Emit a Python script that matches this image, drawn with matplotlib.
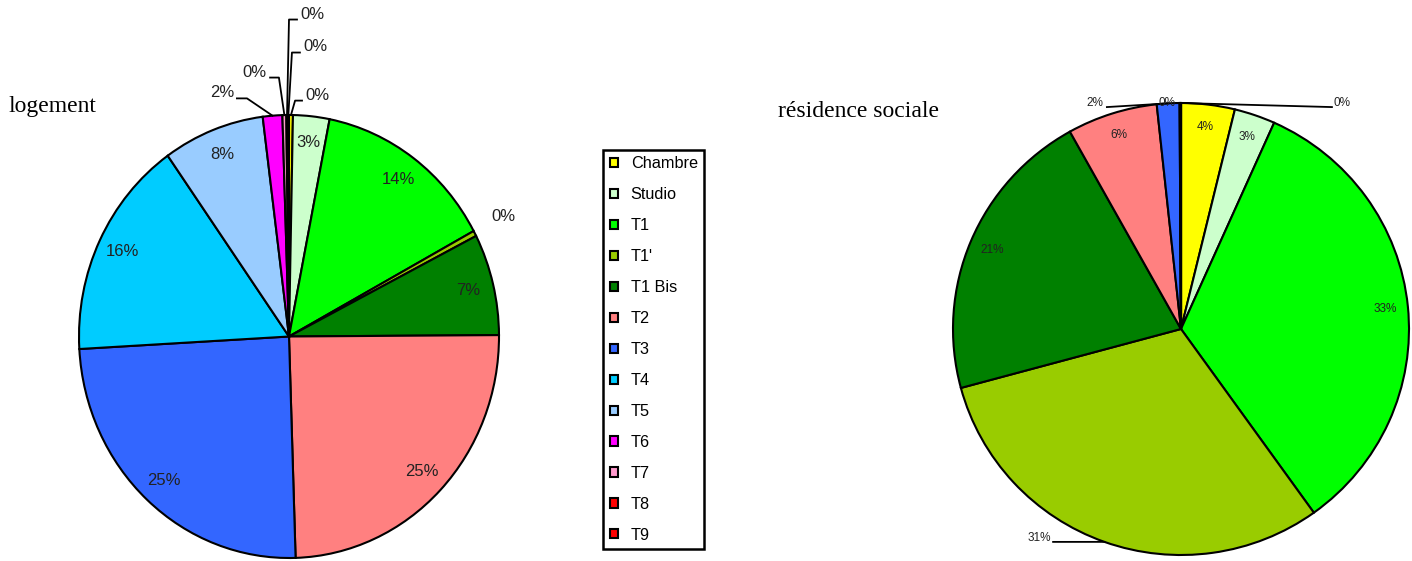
import matplotlib
matplotlib.use('Agg')
import matplotlib.pyplot as plt
from matplotlib.patches import Patch
import numpy as np

plt.rcParams['font.family'] = ['Liberation Sans', 'DejaVu Sans']

categories = ['Chambre', 'Studio', 'T1', "T1'", 'T1 Bis', 'T2', 'T3',
              'T4', 'T5', 'T6', 'T7', 'T8', 'T9']
colors = ['#FFFF00', '#CCFFCC', '#00FF00', '#99CC00', '#008000', '#FF8080',
          '#3366FF', '#00CCFF', '#99CCFF', '#FF00FF', '#FF99CC', '#FF0000',
          '#FF0000']
logement = [0.3, 2.8, 14.0, 0.4, 7.4, 24.6, 24.6, 16.1, 7.8, 1.5, 0.3, 0.1, 0.1]
residence = [3.8, 2.9, 33.4, 30.7, 21.1, 6.4, 1.6, 0.06, 0.04, 0, 0, 0, 0]

# labels pulled out of the pie: leader path (after the rim point), text spot
left_out = {
    'Chambre': dict(path=[(0.029, 1.065), (0.062, 1.065)], xy=(0.076, 1.088), ha='left'),
    "T1'": dict(path=[], xy=(1.02, 0.542), ha='center'),
    'T6': dict(path=[(-0.2, 1.075), (-0.248, 1.075)], xy=(-0.262, 1.10), ha='right'),
    'T7': dict(path=[(-0.048, 1.169), (-0.090, 1.169)], xy=(-0.105, 1.19), ha='right'),
    'T8': dict(path=[(0.0, 1.431), (0.038, 1.431)], xy=(0.052, 1.454), ha='left'),
    'T9': dict(path=[(0.014, 1.282), (0.052, 1.282)], xy=(0.067, 1.309), ha='left'),
}
right_out = {
    'T3': dict(path=[(-0.325, 0.982)], xy=(-0.34, 1.0), ha='right'),
    'T4': dict(path=[], xy=(-0.061, 1.0), ha='center'),
    'T5': dict(path=[(0.662, 0.982)], xy=(0.667, 1.0), ha='left'),
    "T1'": dict(path=[(-0.561, -0.942)], xy=(-0.57, -0.925), ha='right'),
}

W, H = 1412, 561
fig = plt.figure(figsize=(W / 100, H / 100), dpi=100)


def px_axes(left, top, right, bottom):
    return fig.add_axes([left / W, 1 - bottom / H, (right - left) / W,
                         (bottom - top) / H])


def draw_pie(ax, values, outside, r_in, fs):
    wedges, _ = ax.pie(values, colors=colors, startangle=90, counterclock=False,
                       radius=1, wedgeprops=dict(edgecolor='black', linewidth=1.5))
    ax.set_aspect('auto')
    ax.set_xlim(-1, 1)
    ax.set_ylim(-1, 1)
    ax.axis('off')
    total = sum(values)
    cum = 0
    for name, v in zip(categories, values):
        mid = np.deg2rad(360 * (cum + v / 2) / total)
        cum += v
        if v <= 0:
            continue
        label = f'{round(100 * v / total)}%'
        sx, sy = np.sin(mid), np.cos(mid)
        if name in outside:
            o = outside[name]
            if o['path']:
                pts = [(sx, sy)] + o['path']
                ax.plot(*zip(*pts), color='black', lw=1.3, clip_on=False,
                        zorder=5)
            ax.text(*o['xy'], label, ha=o['ha'], va='center', fontsize=fs,
                    color='#222222', zorder=6)
        else:
            ax.text(r_in * sx, r_in * sy, label, ha='center', va='center',
                    fontsize=fs, color='#222222', zorder=6)
    return wedges


ax1 = px_axes(79, 115, 499, 558)
draw_pie(ax1, logement, left_out, 0.88, 12)

ax2 = px_axes(953, 103, 1409, 555)
draw_pie(ax2, residence, right_out, 0.9, 8.5)

fig.text(8 / W, 1 - 112 / H, 'logement', fontsize=17,
         family='Liberation Serif', va='baseline')
fig.text(778 / W, 1 - 117 / H, 'résidence sociale', fontsize=17,
         family='Liberation Serif', va='baseline')

handles = [Patch(facecolor=c, edgecolor='black', lw=1.5) for c in colors]
leg = fig.legend(handles, categories, loc='upper left',
                 bbox_to_anchor=(603 / W, 1 - 150 / H), borderaxespad=0,
                 fontsize=11.7, handlelength=0.5, handleheight=0.5,
                 handletextpad=0.8, labelspacing=0.98, borderpad=0.4,
                 fancybox=False, framealpha=1)
leg.get_frame().set_edgecolor('black')
leg.get_frame().set_linewidth(1.8)

fig.savefig('out.png', dpi=100)
